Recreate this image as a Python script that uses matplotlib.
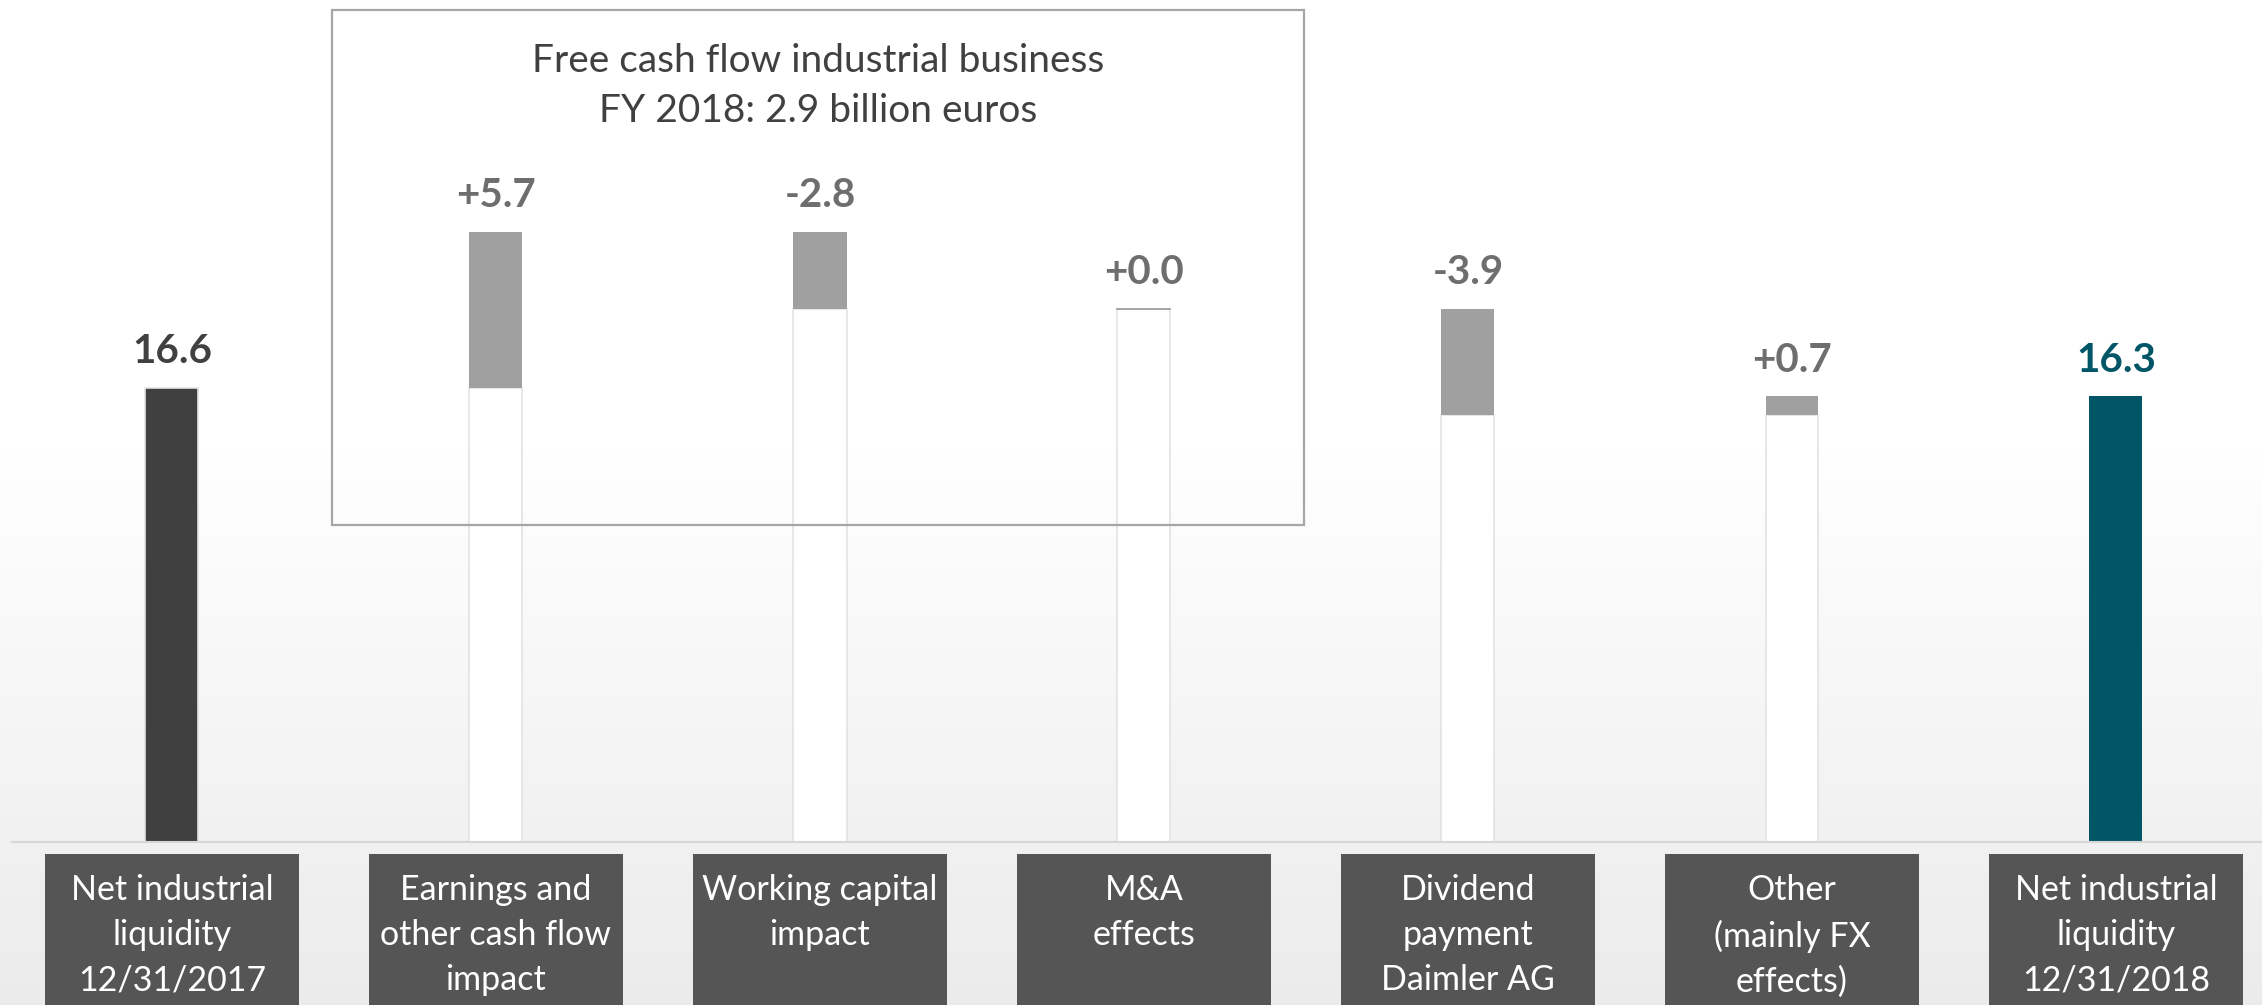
import matplotlib
matplotlib.use("Agg")
import matplotlib.pyplot as plt
import numpy as np
from matplotlib.patches import Rectangle

plt.rcParams['font.family'] = ['Lato', 'DejaVu Sans']

categories = ["Net industrial\nliquidity\n12/31/2017",
              "Earnings and\nother cash flow\nimpact",
              "Working capital\nimpact",
              "M&A\neffects",
              "Dividend\npayment\nDaimler AG",
              "Other\n(mainly FX\neffects)",
              "Net industrial\nliquidity\n12/31/2018"]
start_value = 16.6
deltas = [5.7, -2.8, 0.0, -3.9, 0.7]
end_value = 16.3
delta_labels = ["+5.7", "-2.8", "+0.0", "-3.9", "+0.7"]
inset_title = "Free cash flow industrial business\nFY 2018: 2.9 billion euros"

W, H = 2262, 1005
fig = plt.figure(figsize=(W / 100, H / 100), dpi=100)

# background gradient (vertical)
bg = fig.add_axes([0, 0, 1, 1], zorder=0)
bg.axis('off')
n = 500
t = np.linspace(0, 1, n)  # 0 = bottom
start = 0.55
vals = np.where(t < start, t / start, 1.0)
col = 0.922 + (1 - 0.922) * vals
img = np.stack([col, col, col], axis=-1)[:, None, :]
bg.imshow(img, aspect='auto', origin='lower', extent=[0, 1, 0, 1])
bg.set_xlim(0, 1); bg.set_ylim(0, 1)

ax = fig.add_axes([0, 0, 1, 1], zorder=1)
ax.patch.set_alpha(0)
ax.axis('off')

px_per_x = 324.0
x0_px = 172.0
px_per_y = 27.35
base_px = 163.0
ax.set_xlim(-x0_px / px_per_x, -x0_px / px_per_x + W / px_per_x)
ax.set_ylim(-base_px / px_per_y, -base_px / px_per_y + H / px_per_y)

x = np.arange(len(categories))
bw = 53 / px_per_x

dark = '#404040'
grey = '#a0a0a0'
teal = '#005566'
lbl_grey = '#6e6e6e'
edge = '#e3e3e3'

# first bar
ax.bar(x[0], start_value, width=bw, color=dark, edgecolor=edge, linewidth=1.2, zorder=3)
cum = start_value
tops = [start_value]
for i, d in enumerate(deltas):
    xi = x[i + 1]
    lo = min(cum, cum + d)
    hi = max(cum, cum + d)
    ax.bar(xi, lo, width=bw, color='white', edgecolor=edge, linewidth=1.2, zorder=2)
    if d != 0:
        ax.bar(xi, hi - lo, bottom=lo, width=bw, color=grey, edgecolor='none', zorder=3)
    else:
        ax.plot([xi - bw / 2, xi + bw / 2], [lo, lo], color='#9a9a9a', lw=1.2, zorder=3)
    tops.append(hi)
    cum += d
ax.bar(x[-1], end_value, width=bw, color=teal, edgecolor='none', zorder=3)
tops.append(end_value)

labels = ["16.6"] + delta_labels + ["16.3"]
colors = [dark] + [lbl_grey] * len(deltas) + [teal]
for xi, top, lab, c in zip(x, tops, labels, colors):
    ax.annotate(lab, (xi, top), xytext=(0, 26), textcoords='offset points',
                ha='center', va='center', fontsize=29, fontweight='bold', color=c, zorder=5)

# baseline
ax.plot([12 / px_per_x - x0_px / px_per_x, ax.get_xlim()[1]], [0, 0],
        color='#d6d6d6', lw=1.5, zorder=4)

# category boxes
box_w = 254 / px_per_x
box_top = (H - 854 - base_px) / px_per_y
for xi, cat in zip(x, categories):
    ax.add_patch(Rectangle((xi - box_w / 2, box_top - 20), box_w, 20,
                           facecolor='#555555', edgecolor='none', zorder=3))
    ax.text(xi, (H - 874 - base_px) / px_per_y, cat, ha='center', va='top',
            fontsize=24.5, color='white', linespacing=1.5, zorder=5)

# inset box
bx0, bx1 = 332, 1304
by0, by1 = 10, 525
fig.patches.append(Rectangle((bx0 / W, 1 - by1 / H), (bx1 - bx0) / W, (by1 - by0) / H,
                             transform=fig.transFigure, facecolor='none',
                             edgecolor='#a6a6a6', linewidth=1.6, zorder=6))
fig.text(818 / W, 1 - 86 / H, inset_title, ha='center', va='center',
         fontsize=28, color='#404040', linespacing=1.45)

fig.savefig("out.png", dpi=100)
